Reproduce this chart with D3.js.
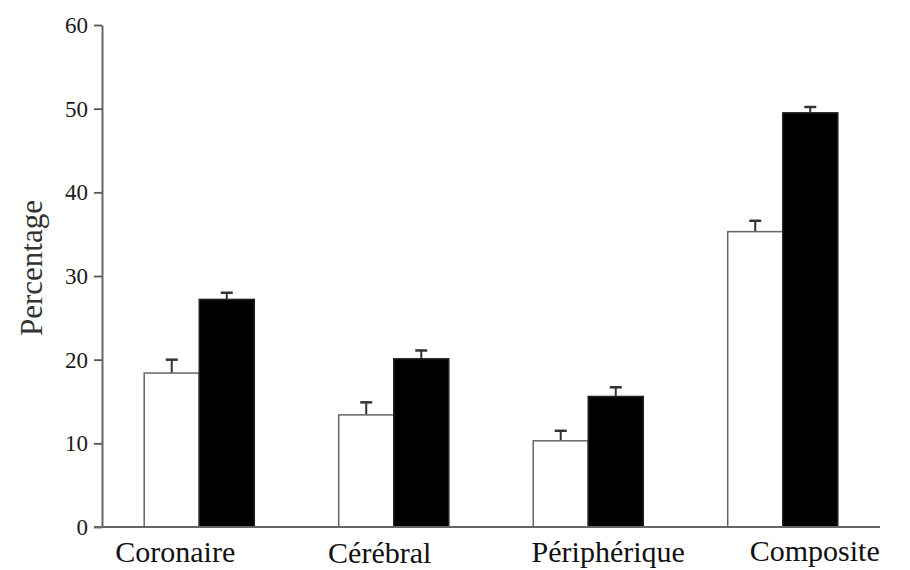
<!DOCTYPE html>
<html>
<head>
<meta charset="utf-8">
<title>Percentage by territory</title>
<script src="https://d3js.org/d3.v7.min.js"></script>
<style>
  body { margin: 0; background: #fff; }
</style>
</head>
<body>
<script>
// data
var categories = ["Coronaire", "Cérébral", "Périphérique", "Composite"];
var series = ["white", "black"];
var whiteValues = [18.4, 13.4, 10.3, 35.3];
var whiteErrors = [1.6, 1.5, 1.2, 1.3];
var blackValues = [27.2, 20.1, 15.6, 49.5];
var blackErrors = [0.8, 1.0, 1.1, 0.7];
var yTicks = [0, 10, 20, 30, 40, 50, 60];

var width = 910, height = 570;
var plotLeft = 102, plotRight = 880, plotTop = 25, plotBottom = 527;
var serif = "'Liberation Serif', 'DejaVu Serif', serif";

var svg = d3.select("body").append("svg")
    .attr("width", width)
    .attr("height", height);

var x = d3.scaleBand()
    .domain(categories)
    .range([plotLeft, plotRight])
    .paddingInner(0.434)
    .paddingOuter(0.217);

var x1 = d3.scaleBand()
    .domain(series)
    .range([0, x.bandwidth()]);

var y = d3.scaleLinear()
    .domain([0, 60])
    .range([plotBottom, plotTop]);

var rows = categories.map(function(c, i) {
    return [
        {cat: c, s: "white", v: whiteValues[i], e: whiteErrors[i]},
        {cat: c, s: "black", v: blackValues[i], e: blackErrors[i]}
    ];
});
var flat = [].concat.apply([], rows);

function cx(d) { return x(d.cat) + x1(d.s) + x1.bandwidth() / 2; }

// error bars first, bars drawn over them
var err = svg.append("g").attr("class", "errors");
err.selectAll("line.stem")
    .data(flat)
    .enter().append("line")
    .attr("class", "stem")
    .attr("x1", cx)
    .attr("x2", cx)
    .attr("y1", function(d) { return y(d.v); })
    .attr("y2", function(d) { return y(d.v + d.e); })
    .attr("stroke", "#333")
    .attr("stroke-width", 2);
err.selectAll("line.cap")
    .data(flat)
    .enter().append("line")
    .attr("class", "cap")
    .attr("x1", function(d) { return cx(d) - 6; })
    .attr("x2", function(d) { return cx(d) + 6; })
    .attr("y1", function(d) { return y(d.v + d.e); })
    .attr("y2", function(d) { return y(d.v + d.e); })
    .attr("stroke", "#333")
    .attr("stroke-width", 2.5);

svg.append("g").selectAll("rect")
    .data(flat)
    .enter().append("rect")
    .attr("x", function(d) { return x(d.cat) + x1(d.s); })
    .attr("y", function(d) { return y(d.v); })
    .attr("width", x1.bandwidth())
    .attr("height", function(d) { return y(0) - y(d.v); })
    .attr("fill", function(d) { return d.s == "white" ? "#fff" : "#000"; })
    .attr("stroke", function(d) { return d.s == "white" ? "#666" : "#222"; })
    .attr("stroke-width", 1.5);

// y axis
var yAxis = svg.append("g")
    .attr("transform", "translate(" + plotLeft + ",0)")
    .call(d3.axisLeft(y).tickValues(yTicks).tickSize(8).tickPadding(6).tickSizeOuter(0));
yAxis.select(".domain").attr("stroke", "#666").attr("stroke-width", 2);
yAxis.selectAll(".tick line").attr("stroke", "#555").attr("stroke-width", 1.8);
yAxis.selectAll(".tick text")
    .attr("font-family", serif)
    .attr("font-size", "23px")
    .attr("fill", "#1a1a1a");

// x axis line
svg.append("line")
    .attr("x1", plotLeft - 8)
    .attr("x2", plotRight)
    .attr("y1", y(0))
    .attr("y2", y(0))
    .attr("stroke", "#666")
    .attr("stroke-width", 2);

// category labels (slightly off-centre like the scan)
var labelShift = [-24, -14, 20, 32];
var labelY = [562, 563, 562, 561];
svg.append("g").selectAll("text")
    .data(categories)
    .enter().append("text")
    .attr("x", function(d, i) { return x(d) + x.bandwidth() / 2 + labelShift[i]; })
    .attr("y", function(d, i) { return labelY[i]; })
    .attr("text-anchor", "middle")
    .attr("font-family", serif)
    .attr("font-size", "30px")
    .attr("fill", "#111")
    .text(function(d) { return d; });

svg.append("text")
    .attr("transform", "translate(42,268) rotate(-90)")
    .attr("text-anchor", "middle")
    .attr("font-family", serif)
    .attr("font-size", "31px")
    .attr("fill", "#333")
    .text("Percentage");
</script>
</body>
</html>
